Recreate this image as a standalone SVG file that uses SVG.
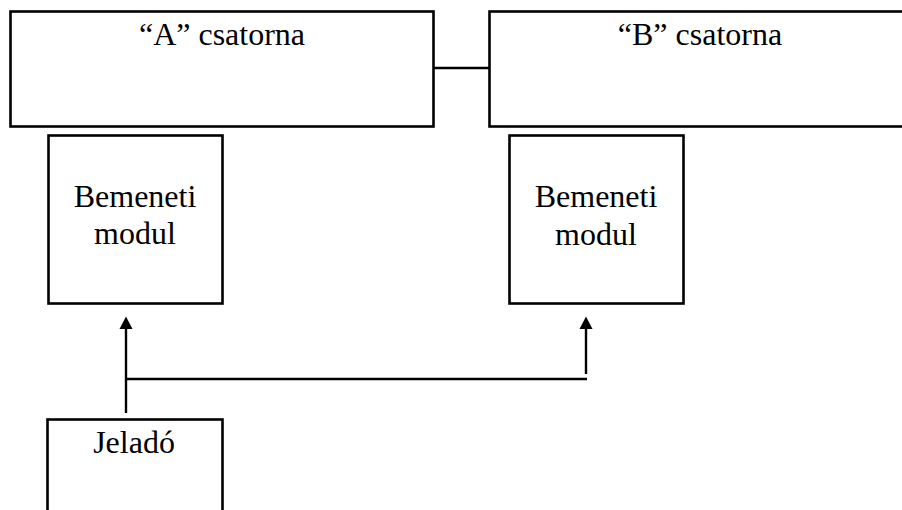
<svg xmlns="http://www.w3.org/2000/svg" width="902" height="510" viewBox="0 0 902 510">
  <style>
    .box { fill: #ffffff; stroke: #000000; stroke-width: 2.6; }
    .lbl { font-family: "Liberation Serif", "Times New Roman", serif; font-size: 32px; fill: #000000; text-anchor: middle; }
    .wire { fill: none; stroke: #000000; stroke-width: 2.4; }
    .head { fill: #000000; }
  </style>
  <rect width="902" height="510" fill="#ffffff"/>

  <g id="channel-a">
    <rect class="box" x="10.5" y="11.5" width="423" height="115"/>
    <text class="lbl" x="222" y="45">“A” csatorna</text>
  </g>

  <g id="channel-b">
    <rect class="box" x="489.5" y="11.5" width="424" height="115"/>
    <text class="lbl" x="700" y="45">“B” csatorna</text>
  </g>

  <g id="input-a">
    <rect class="box" x="48.5" y="135.5" width="174" height="168"/>
    <text class="lbl" x="135" y="207">Bemeneti</text>
    <text class="lbl" x="135" y="244">modul</text>
  </g>

  <g id="input-b">
    <rect class="box" x="509.5" y="135.5" width="174" height="168"/>
    <text class="lbl" x="596" y="207">Bemeneti</text>
    <text class="lbl" x="596" y="245">modul</text>
  </g>

  <g id="transmitter">
    <rect class="box" x="47.5" y="419.5" width="175" height="110"/>
    <text class="lbl" x="134" y="453">Jeladó</text>
  </g>

  <g id="connectors">
    <line class="wire" x1="433.5" y1="68" x2="489.5" y2="68"/>
    <line class="wire" x1="126" y1="413" x2="126" y2="328"/>
    <path class="head" d="M119.5,329 L126,316.5 L132.5,329 Z"/>
    <polyline class="wire" points="126,379 587,379"/>
    <line class="wire" x1="586" y1="374" x2="586" y2="328"/>
    <path class="head" d="M579.5,329 L586,316.5 L592.5,329 Z"/>
  </g>
</svg>
